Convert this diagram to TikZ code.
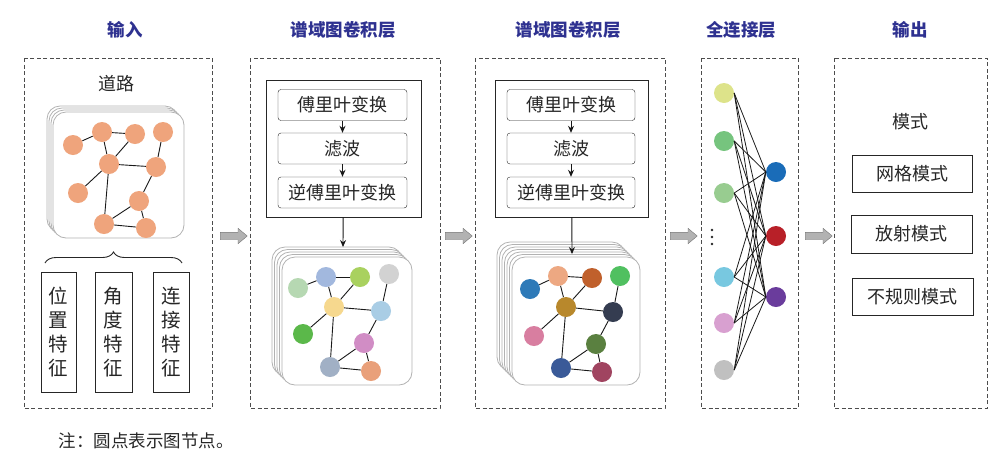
\documentclass[tikz,border=0pt]{standalone}
\usepackage{fontspec}
\newfontfamily\cjk{Noto Sans CJK SC}
\usetikzlibrary{positioning,arrows.meta,decorations.pathreplacing,shapes.arrows}
\definecolor{titleblue}{HTML}{2E3190}
\definecolor{road}{HTML}{EFA47C}
% colours of the first conv layer
\definecolor{ca}{HTML}{B6D8B2}
\definecolor{cb}{HTML}{A2B8DE}
\definecolor{cc}{HTML}{A9D15F}
\definecolor{cd}{HTML}{D2D2D2}
\definecolor{ce}{HTML}{F6D88E}
\definecolor{cf}{HTML}{A9CDE5}
\definecolor{cg}{HTML}{5BB84A}
\definecolor{ch}{HTML}{D18DC5}
\definecolor{ci}{HTML}{A1B0C5}
\definecolor{cj}{HTML}{E9A07A}
% colours of the second conv layer
\definecolor{da}{HTML}{2E7AB8}
\definecolor{db}{HTML}{EDA882}
\definecolor{dc}{HTML}{C0602C}
\definecolor{dd}{HTML}{50C060}
\definecolor{de}{HTML}{B8882C}
\definecolor{df}{HTML}{343C50}
\definecolor{dg}{HTML}{D87EA0}
\definecolor{dh}{HTML}{5A8040}
\definecolor{di}{HTML}{3A5A98}
\definecolor{dj}{HTML}{A04460}
% fully connected layer
\definecolor{fa}{HTML}{DDE38A}
\definecolor{fb}{HTML}{76C47E}
\definecolor{fc}{HTML}{98CC90}
\definecolor{fd}{HTML}{78C8E0}
\definecolor{fe}{HTML}{D8A0D0}
\definecolor{ff}{HTML}{C0C0C0}
\definecolor{oa}{HTML}{1A6CB8}
\definecolor{ob}{HTML}{B82028}
\definecolor{oc}{HTML}{6A3C9C}
\begin{document}
\begin{tikzpicture}[x=1pt,y=-1pt]
        \tikzset{
            panel/.style={draw=black!70, line width=0.8pt, dash pattern=on 4pt off 2.5pt},
            title/.style={font=\cjk\bfseries\fontsize{17.5}{18}\selectfont, text=titleblue},
            lbl/.style={font=\cjk\fontsize{18}{18}\selectfont, text=black!85},
            stepbox/.style={draw=black!85, rounded corners=3pt, minimum width=129pt, minimum height=31pt, lbl},
            featbox/.style={draw=black!85, minimum height=120pt, inner sep=0pt, align=center, font=\cjk\fontsize{19.5}{24}\selectfont, text=black!85},
            modebox/.style={draw=black!85, minimum width=120pt, minimum height=37pt, lbl},
            card/.style={draw=black!30, fill=white, rounded corners=13pt, line width=0.8pt},
            dot/.style={circle, inner sep=0pt, minimum size=20pt},
            link/.style={draw=black!90, line width=0.9pt},
            flow/.style={-{Stealth[length=7pt,width=6pt]}, draw=black!90, line width=0.9pt},
            bigarrow/.style={single arrow, draw=black!55, fill=black!30, inner sep=0pt, inner ysep=3.5pt,
                minimum height=27pt, single arrow head extend=4pt, single arrow tip angle=80}
        }
        \useasboundingbox (0,0) rectangle (1006,467);

        % titles
        \node[title] (t1) at (125,30) {输入};
        \node[title] (t2) at (343,30) {谱域图卷积层};
        \node[title] (t3) at (568,30) {谱域图卷积层};
        \node[title] (t4) at (741,30) {全连接层};
        \node[title] (t5) at (910,30) {输出};

        % panels
        \draw[panel] (24,58) rectangle (212,408);
        \draw[panel] (250,58) rectangle (440,408);
        \draw[panel] (475,58) rectangle (665,408);
        \draw[panel] (701,58) rectangle (798,408);
        \draw[panel] (834,58) rectangle (987,408);

        % arrows between panels
        \node[bigarrow] (a1) at (231.5,236) {};
        \node[bigarrow] (a2) at (456.5,236) {};
        \node[bigarrow] (a3) at (681.5,236) {};
        \node[bigarrow] (a4) at (816.5,236) {};

        % input
        \node[lbl] (road) at (116,84) {道路};
        \foreach \k in {3,...,0}
            \draw[card] ({53-2*\k},{112-2*\k}) rectangle ({184-2*\k},{238-2*\k});
        \node[dot, fill=road] (r1) at (73,145) {};
        \node[dot, fill=road] (r2) at (102,132) {};
        \node[dot, fill=road] (r3) at (135,134) {};
        \node[dot, fill=road] (r4) at (163,132) {};
        \node[dot, fill=road] (r5) at (109,164) {};
        \node[dot, fill=road] (r6) at (156,167) {};
        \node[dot, fill=road] (r7) at (78,193) {};
        \node[dot, fill=road] (r8) at (139,201) {};
        \node[dot, fill=road] (r9) at (104,224) {};
        \node[dot, fill=road] (r10) at (146,228) {};
        \foreach \a/\b in {1/2,2/3,2/5,3/5,5/6,4/6,5/7,5/9,6/8,8/9,8/10,9/10}
            \draw[link] (r\a) -- (r\b);
        \draw[decorate, decoration={brace, amplitude=11pt}, line width=0.9pt, draw=black!85]
            (45,263) -- (182,263);
        \node[featbox, minimum width=35pt] (pos) at (58.5,332) {位\\置\\特\\征};
        \node[featbox, minimum width=37pt] (ang) at (113.5,332) {角\\度\\特\\征};
        \node[featbox, minimum width=36pt] (con) at (171,332) {连\\接\\特\\征};

        % first conv layer
        \node[draw=black!85, minimum width=155pt, minimum height=137pt] (conv1) at (343.5,148.5) {};
        \node[stepbox] (ft1) at (342.5,105) {傅里叶变换};
        \node[stepbox] (fl1) at (342.5,148.5) {滤波};
        \node[stepbox] (ift1) at (342.5,192.5) {逆傅里叶变换};
        \draw[flow] (ft1) -- (fl1);
        \draw[flow] (fl1) -- (ift1);
        \foreach \k in {4,...,0}
            \draw[card] ({282-2.5*\k},{257-2.5*\k}) rectangle ({412-2.5*\k},{385-2.5*\k});
        \coordinate (s1) at (343,247);
        \draw[flow] (conv1) -- (s1);
        \node[dot, fill=ca] (p1) at (298,288) {};
        \node[dot, fill=cb] (p2) at (326,277) {};
        \node[dot, fill=cc] (p3) at (360,277) {};
        \node[dot, fill=cd] (p4) at (389,274) {};
        \node[dot, fill=ce] (p5) at (334,307) {};
        \node[dot, fill=cf] (p6) at (381,311) {};
        \node[dot, fill=cg] (p7) at (303,334) {};
        \node[dot, fill=ch] (p8) at (364,343) {};
        \node[dot, fill=ci] (p9) at (330,367) {};
        \node[dot, fill=cj] (p10) at (371,371) {};
        \foreach \a/\b in {1/2,2/3,2/5,3/5,5/6,4/6,5/7,5/9,6/8,8/9,8/10,9/10}
            \draw[link] (p\a) -- (p\b);

        % second conv layer
        \node[draw=black!85, minimum width=153pt, minimum height=137pt] (conv2) at (571.5,148.5) {};
        \node[stepbox, minimum width=128pt] (ft2) at (571,105) {傅里叶变换};
        \node[stepbox, minimum width=128pt] (fl2) at (571,148.5) {滤波};
        \node[stepbox, minimum width=128pt] (ift2) at (571,192.5) {逆傅里叶变换};
        \draw[flow] (ft2) -- (fl2);
        \draw[flow] (fl2) -- (ift2);
        \foreach \k in {6,...,0}
            \draw[card] ({512-2.5*\k},{257-2.5*\k}) rectangle ({640-2.5*\k},{385-2.5*\k});
        \coordinate (s2) at (572,254);
        \draw[flow] (conv2) -- (s2);
        \node[dot, fill=da] (q1) at (530,289) {};
        \node[dot, fill=db] (q2) at (558,276) {};
        \node[dot, fill=dc] (q3) at (592,278) {};
        \node[dot, fill=dd] (q4) at (620,276) {};
        \node[dot, fill=de] (q5) at (566,307) {};
        \node[dot, fill=df] (q6) at (613,312) {};
        \node[dot, fill=dg] (q7) at (534,336) {};
        \node[dot, fill=dh] (q8) at (596,344) {};
        \node[dot, fill=di] (q9) at (561,368) {};
        \node[dot, fill=dj] (q10) at (602,372) {};
        \foreach \a/\b in {1/2,2/3,2/5,3/5,5/6,4/6,5/7,5/9,6/8,8/9,8/10,9/10}
            \draw[link] (q\a) -- (q\b);

        % fully connected layer
        \foreach \n/\y/\c in {1/93/fa,2/141/fb,3/193/fc,4/277/fd,5/323/fe,6/370/ff}
            \node[dot, fill=\c, minimum width=20pt, minimum height=18pt] (in\n) at (724,\y) {};
        \foreach \y in {230,237,244}
            \fill[black!85] (712,\y) circle (1.3pt);
        \foreach \n/\y/\c in {1/172/oa,2/236/ob,3/297/oc}
            \node[dot, fill=\c] (out\n) at (776,\y) {};
        \foreach \i in {1,...,6}
            \foreach \j in {1,2,3}
                \draw[link, line width=0.8pt] (in\i.east) -- (out\j.west);

        % output
        \node[lbl] (mode) at (910,122) {模式};
        \node[modebox] (grid) at (912,173.5) {网格模式};
        \node[modebox, minimum width=121pt, minimum height=38pt] (radial) at (911.5,234) {放射模式};
        \node[modebox, minimum width=121pt] (irreg) at (912.5,296.5) {不规则模式};

        % note
        \node[lbl, font=\cjk\fontsize{17.5}{18}\selectfont] (note) at (146,441) {注：圆点表示图节点。};
    \end{tikzpicture}
\end{document}
